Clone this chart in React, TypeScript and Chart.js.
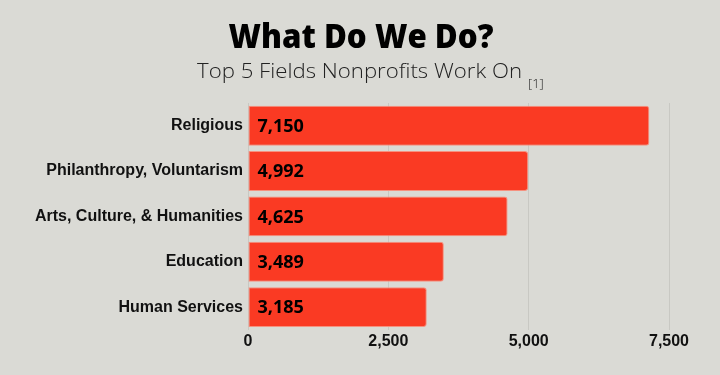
import React, { useEffect, useRef } from "react";
import { Chart, registerables } from "chart.js";

Chart.register(...registerables);

const categories = [
  "Religious",
  "Philanthropy, Voluntarism",
  "Arts, Culture, & Humanities",
  "Education",
  "Human Services",
];
const values = [7150, 4992, 4625, 3489, 3185];
const xTicks = [0, 2500, 5000, 7500];
const titleText = "What Do We Do?";
const subtitleText = "Top 5 Fields Nonprofits Work On";
const subtitleNote = "[1]";

const BG = "#dadad5";
const BAR = "#fa3a23";

export default function App() {
  const ref = useRef<HTMLCanvasElement | null>(null);

  useEffect(() => {
    document.body.style.margin = "0";
    document.body.style.background = BG;
    const canvas = ref.current;
    if (!canvas) return;

    const headerPlugin = {
      id: "header",
      beforeDraw(chart: any) {
        const ctx = chart.ctx;
        ctx.save();
        ctx.fillStyle = BG;
        ctx.fillRect(0, 0, chart.width, chart.height);
        ctx.restore();
      },
      afterDraw(chart: any) {
        const ctx = chart.ctx;
        ctx.save();
        ctx.fillStyle = "#000";
        ctx.textAlign = "center";
        ctx.textBaseline = "alphabetic";
        ctx.font = "800 34px 'Open Sans'";
        const tw = ctx.measureText(titleText).width;
        ctx.translate(361, 48);
        ctx.scale(265 / tw, 1);
        ctx.fillText(titleText, 0, 0);
        ctx.restore();

        ctx.save();
        ctx.fillStyle = "#222";
        ctx.textBaseline = "alphabetic";
        ctx.textAlign = "left";
        ctx.font = "300 21px 'Open Sans'";
        const sw = ctx.measureText(subtitleText).width;
        ctx.translate(197, 78);
        ctx.scale(325 / sw, 1);
        ctx.fillText(subtitleText, 0, 0);
        ctx.restore();

        ctx.save();
        ctx.fillStyle = "#222";
        ctx.textBaseline = "alphabetic";
        ctx.textAlign = "left";
        ctx.font = "300 13px 'Open Sans'";
        ctx.fillText(subtitleNote, 528, 88);
        ctx.restore();

        // value labels
        const meta = chart.getDatasetMeta(0);
        ctx.save();
        ctx.fillStyle = "#000";
        ctx.font = "bold 18px 'Open Sans'";
        ctx.textBaseline = "middle";
        ctx.textAlign = "left";
        meta.data.forEach((bar: any, i: number) => {
          const v = chart.data.datasets[0].data[i] as number;
          ctx.fillText(v.toLocaleString("en-US"), bar.base + 9, bar.y + 1);
        });
        ctx.restore();
      },
    };

    const chart = new Chart(canvas, {
      type: "bar",
      data: {
        labels: categories,
        datasets: [
          {
            data: values,
            backgroundColor: BAR,
            borderColor: "#f6917f",
            borderWidth: 1,
            borderRadius: { topRight: 3, bottomRight: 3, topLeft: 0, bottomLeft: 0 },
            borderSkipped: false,
            categoryPercentage: 0.88,
            barPercentage: 1,
          },
        ],
      },
      options: {
        indexAxis: "y",
        responsive: false,
        animation: false,
        layout: { padding: { top: 103, right: 51, bottom: 22, left: 0 } },
        plugins: {
          legend: { display: false },
          title: { display: false },
          tooltip: { enabled: false },
        },
        scales: {
          x: {
            min: 0,
            max: 7500,
            afterBuildTicks(scale: any) {
              scale.ticks = xTicks.map((v) => ({ value: v }));
            },
            ticks: {
              color: "#111",
              font: { family: "'Liberation Sans', Arial", weight: "bold", size: 16 },
              padding: 2,
              callback: (v: any) => Number(v).toLocaleString("en-US"),
            },
            grid: { color: "#c8c8c3", drawTicks: false, lineWidth: 1 },
            border: { display: false },
          },
          y: {
            afterFit(scale: any) {
              scale.width = 248;
            },
            ticks: {
              color: "#111",
              font: { family: "'Liberation Sans', Arial", weight: "bold", size: 16 },
              padding: 5,
            },
            grid: { display: false, drawTicks: false },
            border: { display: false },
          },
        },
      },
      plugins: [headerPlugin],
    });

    return () => chart.destroy();
  }, []);

  return <canvas ref={ref} width={720} height={375} style={{ display: "block" }} />;
}
